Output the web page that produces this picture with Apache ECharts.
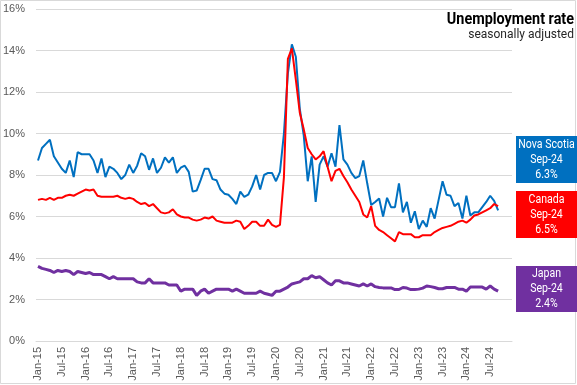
<!DOCTYPE html>
<html>
<head>
<meta charset="utf-8">
<script src="https://cdn.jsdelivr.net/npm/echarts@6/dist/echarts.min.js"></script>
<style>
html,body{margin:0;padding:0;background:#fff;}
#chart{width:577px;height:385px;}
</style>
</head>
<body>
<div id="chart"></div>
<script>
// ---- data ----
const monthNames = ['Jan','Feb','Mar','Apr','May','Jun','Jul','Aug','Sep','Oct','Nov','Dec'];
const yearLabels = ['15','16','17','18','19','20','21','22','23','24'];

const seriesNames = ['Nova Scotia','Canada','Japan'];
const lastPeriod = 'Sep-24';

const novaScotia = [
  8.7,9.3,9.5,9.7,8.9,8.6,8.3,8.1,8.7,7.9,9.1,9.0,
  9.0,9.0,8.7,8.1,8.8,7.9,8.4,8.3,8.1,7.8,8.0,8.5,
  8.1,8.45,9.05,8.9,8.25,8.8,8.1,8.35,8.85,8.6,8.85,8.1,
  8.35,8.45,8.15,7.2,7.25,7.75,8.3,8.3,7.8,7.75,7.3,7.1,
  7.05,6.85,6.6,7.2,6.95,7.05,7.45,8.0,7.3,8.0,8.1,8.1,
  7.7,8.15,10.0,12.9,14.3,13.7,11.2,9.9,7.7,8.9,6.7,8.5,
  8.9,8.4,9.05,8.4,10.4,8.75,8.5,8.1,7.85,7.95,8.7,7.6,
  6.55,6.7,6.87,6.0,6.9,6.45,6.45,7.6,6.2,6.7,5.7,6.25,
  5.4,5.8,5.5,6.4,5.9,6.8,7.7,7.05,7.0,6.5,6.65,5.9,
  7.0,6.05,6.2,6.2,6.45,6.7,7.0,6.75,6.3
];
const canada = [
  6.8,6.85,6.8,6.9,6.8,6.9,6.9,7.0,7.05,7.0,7.1,7.2,
  7.3,7.25,7.3,7.0,6.95,6.95,6.95,6.95,7.0,6.9,6.85,6.9,
  6.85,6.7,6.6,6.65,6.5,6.6,6.4,6.2,6.15,6.2,6.35,6.1,
  6.0,5.95,5.95,5.85,5.8,5.85,5.95,5.9,6.0,5.8,5.75,5.7,
  5.7,5.7,5.8,5.75,5.4,5.55,5.75,5.75,5.55,5.55,5.85,5.6,
  5.5,5.6,7.9,13.6,14.1,12.6,11.0,10.2,9.3,9.0,8.75,8.9,
  9.15,8.4,7.7,8.2,8.3,7.95,7.65,7.3,7.0,6.7,6.1,5.95,
  6.5,5.55,5.35,5.25,5.1,4.95,4.8,5.25,5.15,5.15,5.15,5.0,
  5.0,5.1,5.1,5.1,5.25,5.35,5.45,5.5,5.55,5.65,5.75,5.8,
  5.7,5.85,6.05,6.1,6.2,6.3,6.4,6.6,6.5
];
const japan = [
  3.6,3.5,3.45,3.4,3.3,3.4,3.35,3.4,3.35,3.2,3.35,3.3,
  3.25,3.3,3.2,3.2,3.2,3.1,3.0,3.1,3.0,3.0,3.0,3.0,
  3.0,2.85,2.8,2.8,3.0,2.8,2.8,2.8,2.8,2.7,2.7,2.7,
  2.4,2.5,2.5,2.5,2.2,2.4,2.5,2.3,2.4,2.5,2.5,2.5,
  2.5,2.4,2.5,2.4,2.3,2.3,2.3,2.3,2.4,2.3,2.25,2.2,
  2.4,2.4,2.5,2.6,2.75,2.8,2.85,3.0,3.0,3.15,3.05,3.1,
  2.95,2.8,2.7,2.9,2.9,2.8,2.8,2.75,2.7,2.65,2.75,2.65,
  2.75,2.62,2.58,2.56,2.56,2.56,2.48,2.48,2.58,2.55,2.48,2.48,
  2.5,2.55,2.65,2.62,2.58,2.52,2.52,2.58,2.58,2.58,2.5,2.5,
  2.4,2.6,2.6,2.6,2.6,2.5,2.65,2.5,2.4
];

// ---- build categories (Jan-15 .. Dec-24) ----
const categories = [];
yearLabels.forEach(y => monthNames.forEach(m => categories.push(m + '-' + y)));

// ---- styles ----
const colors = ['#0070C0', '#FF0000', '#7030A0'];
const widths = [2, 2, 3];
const boxes = [
  {y: 136, h: 47},
  {y: 191, h: 47},
  {y: 266, h: 46}
];
const dataSets = [novaScotia, canada, japan];

const chart = echarts.init(document.getElementById('chart'), null, {renderer: 'canvas'});

const graphic = [
  {type: 'rect', shape: {x: 0.5, y: 0.5, width: 575, height: 383}, style: {fill: 'none', stroke: '#D9D9D9', lineWidth: 1}, z: 0},
  {type: 'text', x: 574, y: 19.5, scaleX: 0.9, style: {text: 'Unemployment rate', font: 'bold 16px "Roboto", sans-serif', fill: '#000', textAlign: 'right', textVerticalAlign: 'middle'}},
  {type: 'text', x: 574, y: 34.5, style: {text: 'seasonally adjusted', font: '12px "Roboto", sans-serif', fill: '#262626', textAlign: 'right', textVerticalAlign: 'middle'}}
];
boxes.forEach((b, k) => {
  const arr = dataSets[k];
  const last = arr[arr.length - 1];
  graphic.push({type: 'rect', shape: {x: 516, y: b.y, width: 61, height: b.h}, style: {fill: colors[k]}, z: 5});
  graphic.push({type: 'text', x: 546.5, y: b.y + b.h / 2, z: 6, scaleX: 0.88,
    style: {text: seriesNames[k] + '\n' + lastPeriod + '\n' + last.toFixed(1) + '%', font: '12px "Roboto", sans-serif',
      fill: '#fff', textAlign: 'center', textVerticalAlign: 'middle', lineHeight: 15}});
});

chart.setOption({
  animation: false,
  backgroundColor: '#fff',
  grid: {left: 36, right: 65, top: 9, bottom: 44, containLabel: false},
  xAxis: {
    type: 'category',
    data: categories,
    boundaryGap: true,
    axisLine: {lineStyle: {color: '#D9D9D9'}},
    axisTick: {show: false},
    axisLabel: {interval: 5, rotate: 90, color: '#595959', fontSize: 11, fontFamily: '"Liberation Sans", Arial, sans-serif', margin: 6}
  },
  yAxis: {
    type: 'value',
    min: 0, max: 16, interval: 2,
    axisLine: {show: false},
    axisTick: {show: false},
    splitLine: {lineStyle: {color: '#D9D9D9', width: 1}},
    axisLabel: {formatter: '{value}%', color: '#595959', fontSize: 11, fontFamily: '"Liberation Sans", Arial, sans-serif', margin: 11}
  },
  series: seriesNames.map((name, k) => ({
    name: name,
    type: 'line',
    data: dataSets[k],
    showSymbol: false,
    symbol: 'none',
    lineStyle: {color: colors[k], width: widths[k]},
    itemStyle: {color: colors[k]},
    z: 2 + k
  })),
  graphic: graphic
});
</script>
</body>
</html>
